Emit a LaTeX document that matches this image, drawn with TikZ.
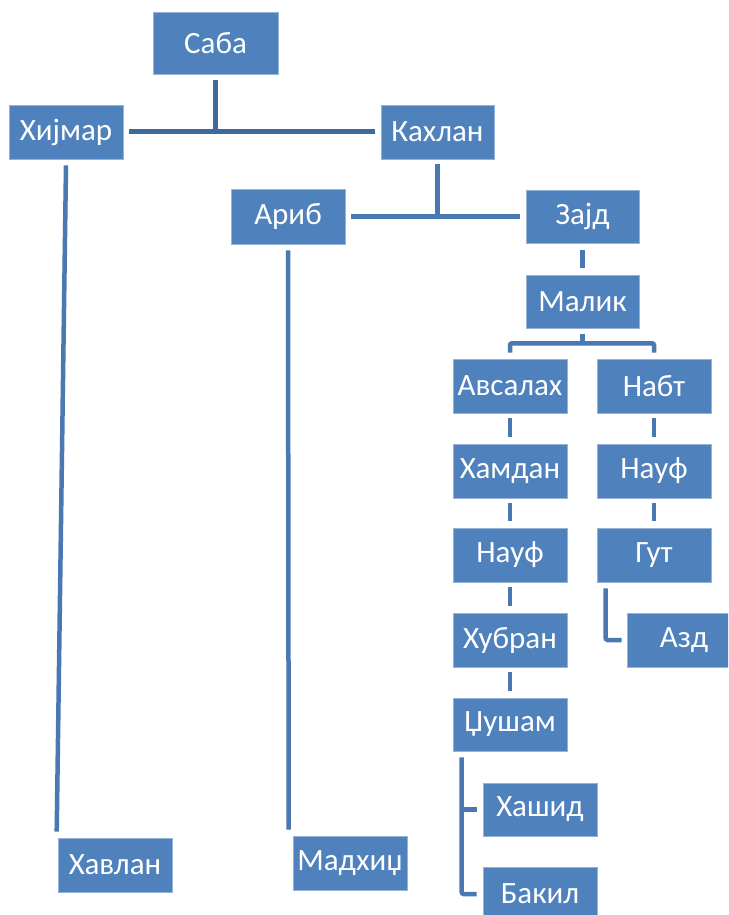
\documentclass[tikz,border=0pt]{standalone}
\usepackage{fontspec}
\setmainfont{Carlito}
\definecolor{boxblue}{HTML}{4F81BD}
\definecolor{linedark}{HTML}{3F6A9B}
\definecolor{linemid}{HTML}{4A78B2}
\begin{document}
\begin{tikzpicture}[x=1pt,y=-1pt,
  person/.style={rectangle, fill=boxblue, draw=boxblue!60!white, line width=0.6pt,
    minimum width=114pt, minimum height=54pt, inner sep=0pt, text=white,
    font=\fontsize{31}{36}\selectfont},
  conn/.style={draw=linemid, line width=4.5pt, rounded corners=2pt},
  topconn/.style={draw=linedark, line width=5pt}]
\useasboundingbox (0,0) rectangle (728,915);
\clip (0,0) rectangle (728,915);
\fill[white] (0,0) rectangle (728,915);
% nodes
\node[person, minimum width=125pt, minimum height=62pt] (saba) at (215.5,43) {Саба};
\node[person] (hijmar) at (66,132) {Хијмар};
\node[person, minimum width=113pt] (kahlan) at (437.5,132) {Кахлан};
\node[person, minimum height=55pt] (arib) at (288,216.5) {Ариб};
\node[person, minimum width=113pt, minimum height=53pt] (zajd) at (582.5,216.5) {Зајд};
\node[person, minimum width=113pt, minimum height=53pt] (malik) at (582.5,301.5) {Малик};
\node[person] (avsalah) at (510,386) {Авсалах};
\node[person] (nabt) at (654,386) {Набт};
\node[person] (hamdan) at (510,471) {Хамдан};
\node[person] (naufa) at (510,555) {Науф};
\node[person] (hubran) at (510,640) {Хубран};
\node[person, minimum height=53pt] (dzusham) at (510,724.5) {Џушам};
\node[person, minimum height=53pt] (hashid) at (540,809.5) {Хашид};
\node[person] (bakil) at (540,894) {Бакил};
\node[person] (naufb) at (654,471) {Науф};
\node[person] (gut) at (654,555) {Гут};
\node[person] (azd) at (684,640) {Азд};
\node[person] (havlan) at (115,865) {Хавлан};
\node[person] (madhic) at (350,863) {Мадхиџ};
% top level connectors
\draw[topconn] ([yshift=-6pt]saba.south) -- (saba.south |- hijmar.east);
\draw[topconn] ([xshift=6pt]hijmar.east) -- ([xshift=-6pt]kahlan.west);
% Kahlan
\draw[conn] ([yshift=-5pt]kahlan.south) -- (kahlan.south |- arib.east);
\draw[conn] ([xshift=6pt]arib.east) -- ([xshift=-6pt]zajd.west);
% Zajd - Malik
\draw[conn] ([yshift=-7pt]zajd.south) -- ([yshift=7pt]malik.north);
% Malik branches
\coordinate (mj) at ([yshift=-15pt]malik.south);
\draw[conn] ([yshift=-6pt]malik.south) -- (mj);
\draw[conn] ([yshift=6pt]avsalah.north) -- (avsalah.north |- mj) -- (nabt.north |- mj) -- ([yshift=6pt]nabt.north);
% left chain
\draw[conn] ([yshift=-5pt]avsalah.south) -- ([yshift=7pt]hamdan.north);
\draw[conn] ([yshift=-5pt]hamdan.south) -- ([yshift=7pt]naufa.north);
\draw[conn] ([yshift=-5pt]naufa.south) -- ([yshift=7pt]hubran.north);
\draw[conn] ([yshift=-5pt]hubran.south) -- ([yshift=7pt]dzusham.north);
% right chain
\draw[conn] ([yshift=-5pt]nabt.south) -- ([yshift=7pt]naufb.north);
\draw[conn] ([yshift=-5pt]naufb.south) -- ([yshift=7pt]gut.north);
% Gut - Azd
\coordinate (gx) at ([xshift=9pt,yshift=-6pt]gut.south west);
\draw[conn] (gx) -- (gx |- azd.west) -- ([xshift=-5pt]azd.west);
% Dzusham - Hashid, Bakil
\coordinate (dx) at ([xshift=9pt,yshift=-6pt]dzusham.south west);
\draw[conn] (dx) -- (dx |- bakil.west) -- ([xshift=-6pt]bakil.west);
\draw[conn] (dx |- hashid.west) -- ([xshift=-6pt]hashid.west);
% long lines
\draw[conn] ([yshift=-6pt]hijmar.south) -- ([xshift=-1pt,yshift=6pt]havlan.north west);
\draw[conn] ([yshift=-6pt]arib.south) -- ([xshift=-4pt,yshift=6pt]madhic.north west);
\end{tikzpicture}
\end{document}
